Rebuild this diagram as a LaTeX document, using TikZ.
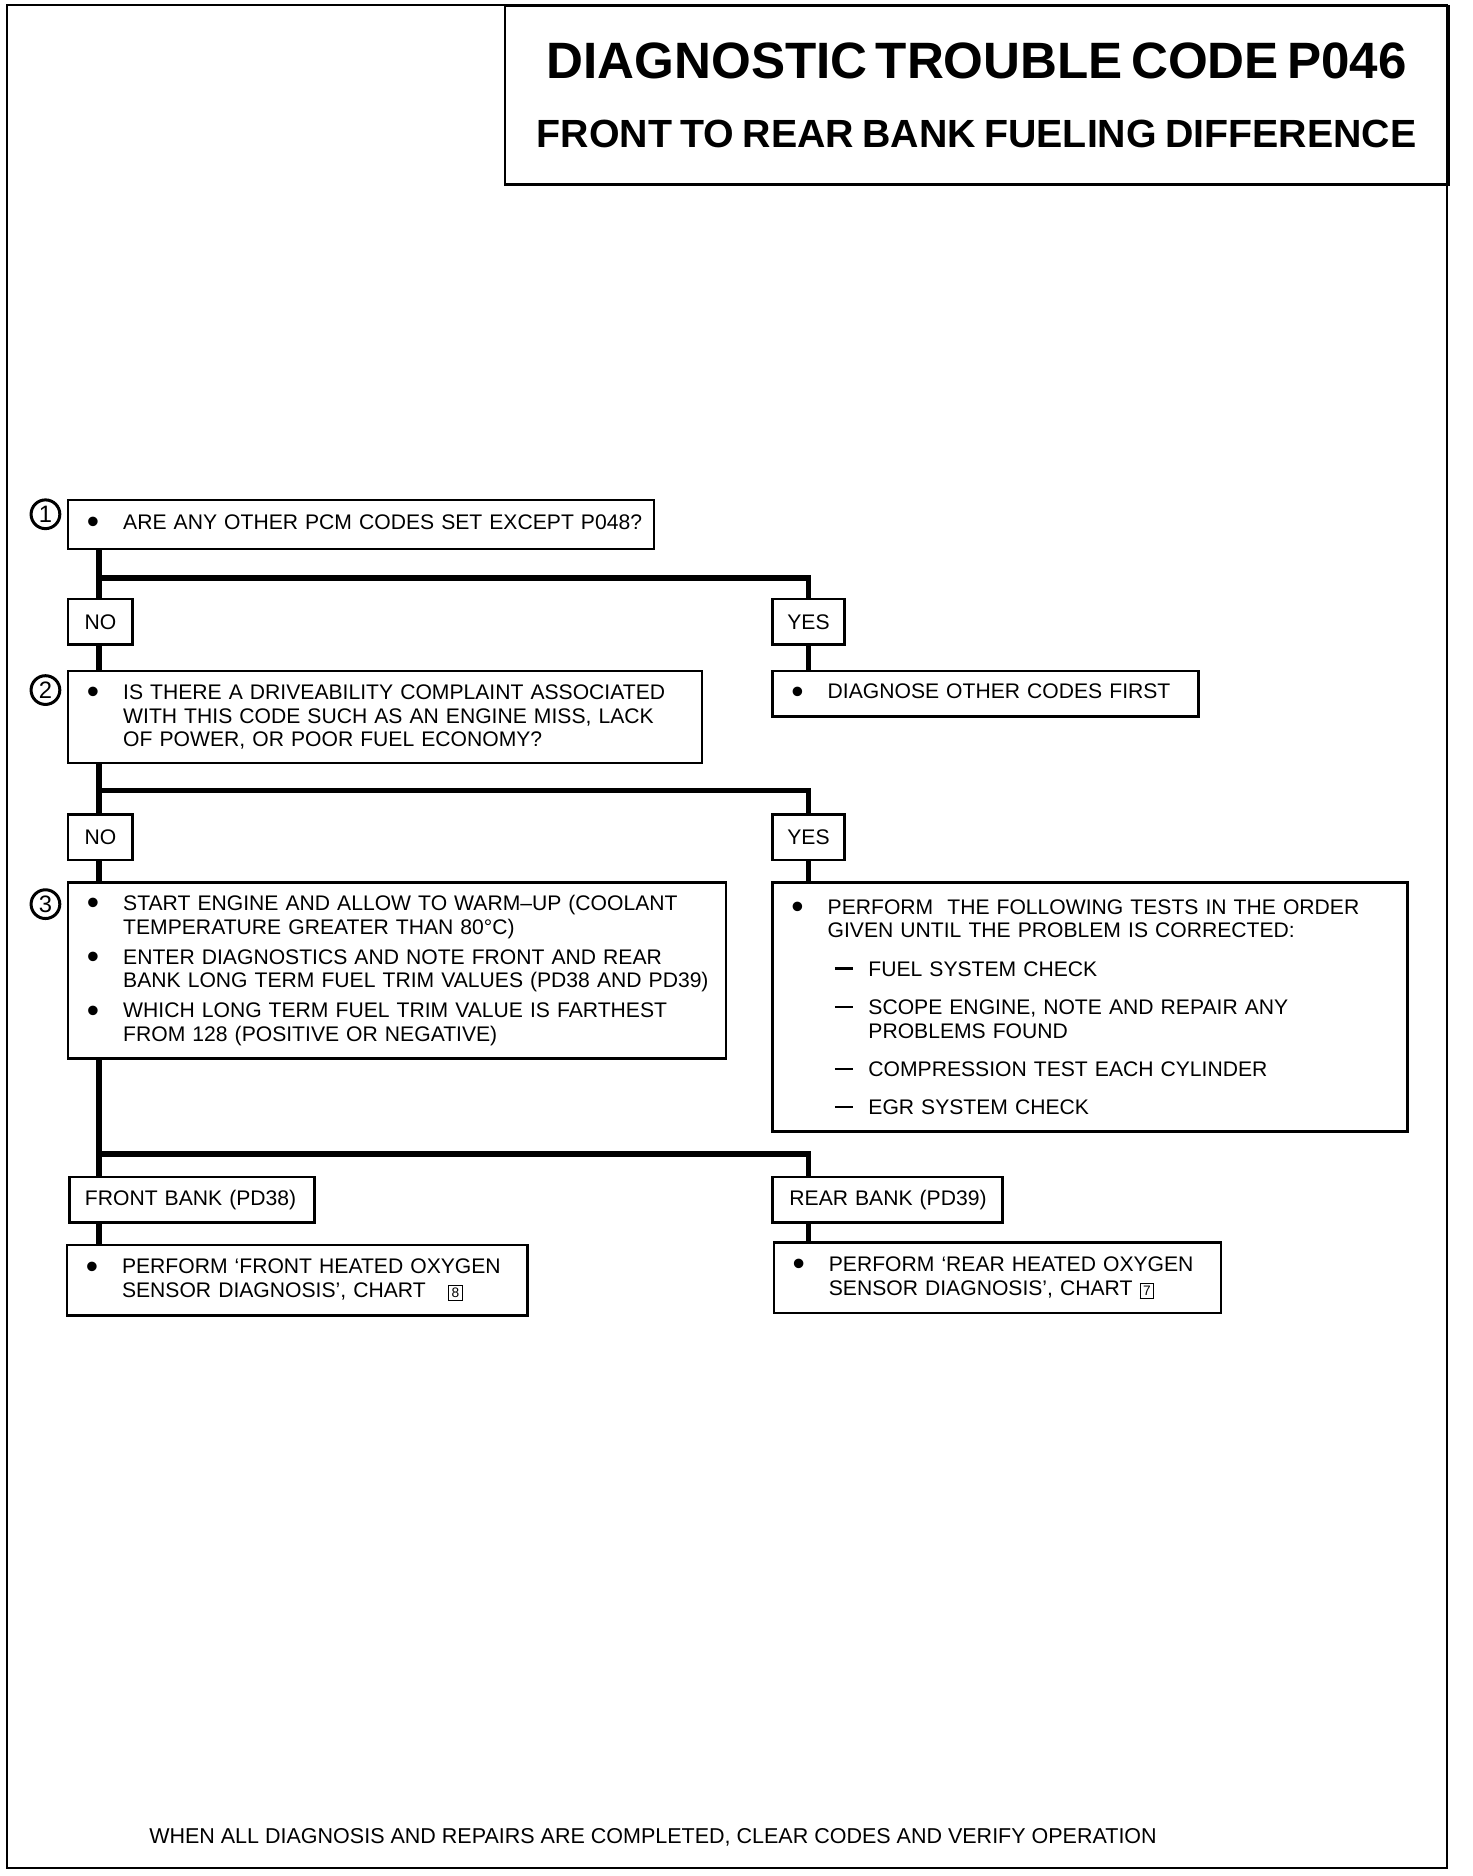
\documentclass[tikz,border=0pt]{standalone}
\usepackage{fontspec}
\setmainfont{Liberation Sans}

\newcommand{\bul}[1]{\noindent\makebox[14.5pt][l]{\raisebox{-1.7pt}{\fontsize{14}{9}\selectfont\textbullet}}\mbox{#1}\par}
\newcommand{\bulcont}[1]{\noindent\hspace*{14.5pt}\mbox{#1}\par}
\newcommand{\dashitem}[1]{\noindent\hspace*{17.4pt}\makebox[13.4pt][l]{\rule[2.6pt]{7.2pt}{0.9pt}}\mbox{#1}\par}
\newcommand{\dashcont}[1]{\noindent\hspace*{30.8pt}\mbox{#1}\par}
\newcommand{\chartno}[1]{{\fboxsep=0.9pt\fboxrule=0.5pt\fbox{\fontsize{5.5}{5.5}\selectfont #1}}}

\tikzset{every picture/.style={line width=1pt},
  box/.style={draw, anchor=north west, inner xsep=7.5pt, inner ysep=0pt, align=left, font=\fontsize{8.45}{9.57}\selectfont},
  yn/.style={draw, anchor=north west, inner sep=0pt, minimum height=18.2pt, font=\fontsize{8.45}{9.57}\selectfont},
  conn/.style={line width=2.3pt},
  num/.style={circle, draw, line width=1.2pt, inner sep=0pt, minimum size=11.5pt, font=\fontsize{9.5}{9.5}\selectfont}
}

\begin{document}
\begin{tikzpicture}[x=0.4784pt,y=0.4784pt,yscale=-1,xscale=1]
\useasboundingbox (0,0) rectangle (1230.8,1568.6);

%Shape: Rectangle [page frame]
\draw (6,4) rectangle (1210,1562);

% Title Node
\node[draw, anchor=north west, inner sep=0pt, text width=377.5pt, minimum height=71.3pt, align=center, font=\bfseries] (title) at (421,4) {{\fontsize{20.45}{24}\selectfont DIAGNOSTIC TROUBLE CODE P046\par}{\fontsize{15.73}{27.7}\selectfont FRONT TO REAR BANK FUELING DIFFERENCE\par}};

% Step 1
\node[num] (n1) at (38,430) {1};
\node[box, text width=219.4pt, minimum height=19.6pt] (q1) at (56,417) {\bul{ARE ANY OTHER PCM CODES SET EXCEPT P048?}};
\node[yn, minimum width=25.8pt] (no1) at (56,500) {NO};
\node[yn, minimum width=28.7pt] (yes1) at (645,500) {YES};
\node[box, text width=155.3pt, minimum height=18.2pt] (a1) at (645,560) {\bul{DIAGNOSE OTHER CODES FIRST}};

% Step 2
\node[num] (n2) at (38,577) {2};
\node[box, text width=238.6pt, minimum height=36.8pt] (q2) at (56,560) {\bul{IS THERE A DRIVEABILITY COMPLAINT ASSOCIATED}\bulcont{WITH THIS CODE SUCH AS AN ENGINE MISS, LACK}\bulcont{OF POWER, OR POOR FUEL ECONOMY?}};
\node[yn, minimum width=25.8pt] (no2) at (56,680) {NO};
\node[yn, minimum width=28.7pt] (yes2) at (645,680) {YES};

% Step 3
\node[num] (n3) at (38,756) {3};
\node[box, text width=248.1pt, minimum height=70.3pt] (q3) at (56,737) {\bul{START ENGINE AND ALLOW TO WARM–UP (COOLANT}\bulcont{TEMPERATURE GREATER THAN 80°C)}\vspace{2.4pt}\bul{ENTER DIAGNOSTICS AND NOTE FRONT AND REAR}\bulcont{BANK LONG TERM FUEL TRIM VALUES (PD38 AND PD39)}\vspace{2.4pt}\bul{WHICH LONG TERM FUEL TRIM VALUE IS FARTHEST}\bulcont{FROM 128 (POSITIVE OR NEGATIVE)}};
\node[box, text width=239pt, minimum height=99.5pt] (a2) at (645,737) {\bul{PERFORM\ \ THE FOLLOWING TESTS IN THE ORDER}\bulcont{GIVEN UNTIL THE PROBLEM IS CORRECTED:}\vspace{5.7pt}\dashitem{FUEL SYSTEM CHECK}\vspace{5.7pt}\dashitem{SCOPE ENGINE, NOTE AND REPAIR ANY}\dashcont{PROBLEMS FOUND}\vspace{5.7pt}\dashitem{COMPRESSION TEST EACH CYLINDER}\vspace{5.7pt}\dashitem{EGR SYSTEM CHECK}\vspace{2.8pt}};

% Banks
\node[box, inner xsep=6.2pt, text width=85.7pt, minimum height=18.2pt] (front) at (57,983) {\mbox{FRONT BANK (PD38)}};
\node[box, inner xsep=6.7pt, text width=78.5pt, minimum height=18.2pt] (rear) at (645,983) {\mbox{REAR BANK (PD39)}};
\node[box, text width=169.2pt, minimum height=28.2pt] (fa) at (55,1040) {\bul{PERFORM ‘FRONT HEATED OXYGEN}\bulcont{SENSOR DIAGNOSIS’, CHART\hspace{9pt}\chartno{8}}};
\node[box, text width=163.9pt, minimum height=28.2pt] (ra) at (646,1038) {\bul{PERFORM ‘REAR HEATED OXYGEN}\bulcont{SENSOR DIAGNOSIS’, CHART \chartno{7}}};

% Text Node
\node[font=\fontsize{8.6}{9}\selectfont] (foot) at (546,1536) {WHEN ALL DIAGNOSIS AND REPAIRS ARE COMPLETED, CLEAR CODES AND VERIFY OPERATION};

% Connectors
\coordinate (trunk) at (83,0);
\coordinate (rtrunk) at (676,0);
\coordinate (br1) at (0,483);
\coordinate (br2) at (0,661);
\coordinate (br3) at (0,965);

\draw[conn] (q1.south -| trunk) -- (no1.north -| trunk);
\draw[conn] (br1 -| trunk) -| (yes1.north -| rtrunk);
\draw[conn] (no1.south -| trunk) -- (q2.north -| trunk);
\draw[conn] (yes1.south -| rtrunk) -- (a1.north -| rtrunk);

\draw[conn] (q2.south -| trunk) -- (no2.north -| trunk);
\draw[conn] (br2 -| trunk) -| (yes2.north -| rtrunk);
\draw[conn] (no2.south -| trunk) -- (q3.north -| trunk);
\draw[conn] (yes2.south -| rtrunk) -- (a2.north -| rtrunk);

\draw[conn] (q3.south -| trunk) -- (front.north -| trunk);
\draw[conn] (br3 -| trunk) -| (rear.north -| rtrunk);
\draw[conn] (front.south -| trunk) -- (fa.north -| trunk);
\draw[conn] (rear.south -| rtrunk) -- (ra.north -| rtrunk);

\end{tikzpicture}
\end{document}
